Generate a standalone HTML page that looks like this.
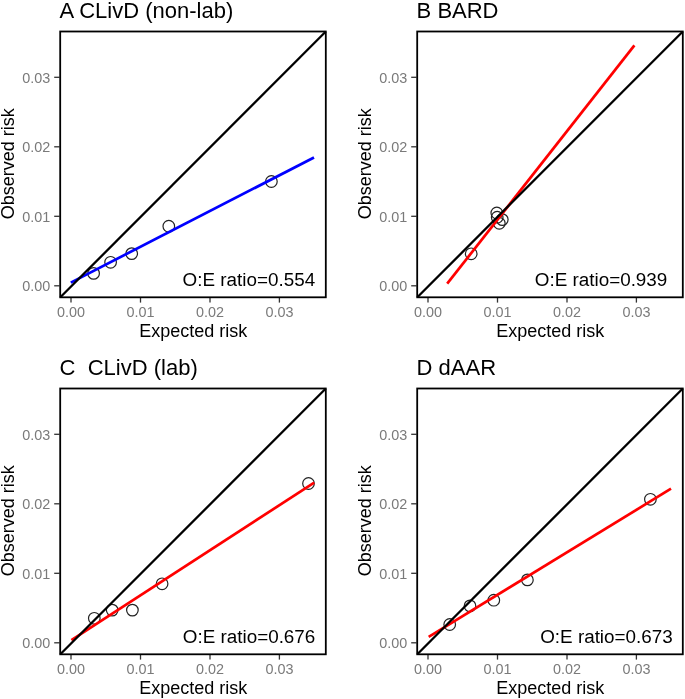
<!DOCTYPE html>
<html><head><meta charset="utf-8"><style>
html,body{margin:0;padding:0;background:#fff;}
svg{display:block;will-change:transform;}
text{font-family:"Liberation Sans",sans-serif;}
.ti{font-size:22px;fill:#000;}
.tk{font-size:14.4px;fill:#7a7a7a;}
.ax{font-size:18px;fill:#000;}
.oe{font-size:18.85px;fill:#000;}
.tm{stroke:#333;stroke-width:1.3;}
.dg{stroke:#000;stroke-width:2.3;}
.pt{fill:none;stroke:#222;stroke-width:1.2;}
.bx{fill:none;stroke:#000;stroke-width:1.8;}
</style></head><body>
<svg width="685" height="699" viewBox="0 0 685 699">
<rect width="685" height="699" fill="#fff"/>
<text x="59.6" y="17.6" class="ti">A CLivD (non-lab)</text>
<text x="50.3" y="291.4" class="tk" text-anchor="end">0.00</text>
<line x1="54.2" y1="285.8" x2="59.5" y2="285.8" class="tm"/>
<text x="50.3" y="221.9" class="tk" text-anchor="end">0.01</text>
<line x1="54.2" y1="216.3" x2="59.5" y2="216.3" class="tm"/>
<text x="50.3" y="152.4" class="tk" text-anchor="end">0.02</text>
<line x1="54.2" y1="146.8" x2="59.5" y2="146.8" class="tm"/>
<text x="50.3" y="82.9" class="tk" text-anchor="end">0.03</text>
<line x1="54.2" y1="77.3" x2="59.5" y2="77.3" class="tm"/>
<text x="71.0" y="316.6" class="tk" text-anchor="middle">0.00</text>
<line x1="71.0" y1="298.0" x2="71.0" y2="302.6" class="tm"/>
<text x="140.5" y="316.6" class="tk" text-anchor="middle">0.01</text>
<line x1="140.5" y1="298.0" x2="140.5" y2="302.6" class="tm"/>
<text x="210.0" y="316.6" class="tk" text-anchor="middle">0.02</text>
<line x1="210.0" y1="298.0" x2="210.0" y2="302.6" class="tm"/>
<text x="279.4" y="316.6" class="tk" text-anchor="middle">0.03</text>
<line x1="279.4" y1="298.0" x2="279.4" y2="302.6" class="tm"/>
<text x="139.2" y="336.5" class="ax">Expected risk</text>
<text transform="translate(14.2,163.8) rotate(-90)" text-anchor="middle" class="ax">Observed risk</text>
<circle cx="93.6" cy="273.4" r="5.8" class="pt"/>
<circle cx="110.6" cy="262.3" r="5.8" class="pt"/>
<circle cx="131.7" cy="253.6" r="5.8" class="pt"/>
<circle cx="168.8" cy="226.2" r="5.8" class="pt"/>
<circle cx="271.4" cy="181.5" r="5.8" class="pt"/>
<line x1="70.8" y1="282.6" x2="314" y2="157.5" stroke="#0000ff" stroke-width="2.7" stroke-linecap="butt"/>
<line x1="60.3" y1="297.3" x2="325.8" y2="31.5" class="dg"/>
<rect x="60.2" y="31.5" width="265.6" height="265.8" class="bx"/>
<text x="182.6" y="285.6" class="oe">O:E ratio=0.554</text>
<text x="416.6" y="17.6" class="ti">B BARD</text>
<text x="407.3" y="291.4" class="tk" text-anchor="end">0.00</text>
<line x1="411.2" y1="285.8" x2="416.5" y2="285.8" class="tm"/>
<text x="407.3" y="221.9" class="tk" text-anchor="end">0.01</text>
<line x1="411.2" y1="216.3" x2="416.5" y2="216.3" class="tm"/>
<text x="407.3" y="152.4" class="tk" text-anchor="end">0.02</text>
<line x1="411.2" y1="146.8" x2="416.5" y2="146.8" class="tm"/>
<text x="407.3" y="82.9" class="tk" text-anchor="end">0.03</text>
<line x1="411.2" y1="77.3" x2="416.5" y2="77.3" class="tm"/>
<text x="428.0" y="316.6" class="tk" text-anchor="middle">0.00</text>
<line x1="428.0" y1="298.0" x2="428.0" y2="302.6" class="tm"/>
<text x="497.5" y="316.6" class="tk" text-anchor="middle">0.01</text>
<line x1="497.5" y1="298.0" x2="497.5" y2="302.6" class="tm"/>
<text x="567.0" y="316.6" class="tk" text-anchor="middle">0.02</text>
<line x1="567.0" y1="298.0" x2="567.0" y2="302.6" class="tm"/>
<text x="636.4" y="316.6" class="tk" text-anchor="middle">0.03</text>
<line x1="636.4" y1="298.0" x2="636.4" y2="302.6" class="tm"/>
<text x="496.2" y="336.5" class="ax">Expected risk</text>
<text transform="translate(371.2,163.8) rotate(-90)" text-anchor="middle" class="ax">Observed risk</text>
<circle cx="471.2" cy="253.8" r="5.8" class="pt"/>
<circle cx="496.8" cy="213.0" r="5.8" class="pt"/>
<circle cx="497.2" cy="217.2" r="5.8" class="pt"/>
<circle cx="502.3" cy="219.6" r="5.8" class="pt"/>
<circle cx="499.3" cy="223.3" r="5.8" class="pt"/>
<line x1="447.2" y1="283.7" x2="634.4" y2="45.3" stroke="#ff0000" stroke-width="2.7" stroke-linecap="butt"/>
<line x1="417.3" y1="297.3" x2="682.8" y2="31.5" class="dg"/>
<rect x="417.2" y="31.5" width="265.6" height="265.8" class="bx"/>
<text x="534.8" y="285.6" class="oe">O:E ratio=0.939</text>
<text x="59.6" y="374.6" class="ti">C&#160; CLivD (lab)</text>
<text x="50.3" y="648.4" class="tk" text-anchor="end">0.00</text>
<line x1="54.2" y1="642.8" x2="59.5" y2="642.8" class="tm"/>
<text x="50.3" y="578.9" class="tk" text-anchor="end">0.01</text>
<line x1="54.2" y1="573.3" x2="59.5" y2="573.3" class="tm"/>
<text x="50.3" y="509.4" class="tk" text-anchor="end">0.02</text>
<line x1="54.2" y1="503.8" x2="59.5" y2="503.8" class="tm"/>
<text x="50.3" y="439.9" class="tk" text-anchor="end">0.03</text>
<line x1="54.2" y1="434.3" x2="59.5" y2="434.3" class="tm"/>
<text x="71.0" y="673.6" class="tk" text-anchor="middle">0.00</text>
<line x1="71.0" y1="655.0" x2="71.0" y2="659.6" class="tm"/>
<text x="140.5" y="673.6" class="tk" text-anchor="middle">0.01</text>
<line x1="140.5" y1="655.0" x2="140.5" y2="659.6" class="tm"/>
<text x="210.0" y="673.6" class="tk" text-anchor="middle">0.02</text>
<line x1="210.0" y1="655.0" x2="210.0" y2="659.6" class="tm"/>
<text x="279.4" y="673.6" class="tk" text-anchor="middle">0.03</text>
<line x1="279.4" y1="655.0" x2="279.4" y2="659.6" class="tm"/>
<text x="139.2" y="693.5" class="ax">Expected risk</text>
<text transform="translate(14.2,520.8) rotate(-90)" text-anchor="middle" class="ax">Observed risk</text>
<circle cx="94.3" cy="618.3" r="5.8" class="pt"/>
<circle cx="112.2" cy="610.1" r="5.8" class="pt"/>
<circle cx="132.4" cy="610.1" r="5.8" class="pt"/>
<circle cx="162.1" cy="583.8" r="5.8" class="pt"/>
<circle cx="308.5" cy="483.5" r="5.8" class="pt"/>
<line x1="71.4" y1="640.2" x2="314.2" y2="482.6" stroke="#ff0000" stroke-width="2.7" stroke-linecap="butt"/>
<line x1="60.3" y1="654.3" x2="325.8" y2="388.5" class="dg"/>
<rect x="60.2" y="388.5" width="265.6" height="265.8" class="bx"/>
<text x="182.8" y="642.6" class="oe">O:E ratio=0.676</text>
<text x="416.6" y="374.6" class="ti">D dAAR</text>
<text x="407.3" y="648.4" class="tk" text-anchor="end">0.00</text>
<line x1="411.2" y1="642.8" x2="416.5" y2="642.8" class="tm"/>
<text x="407.3" y="578.9" class="tk" text-anchor="end">0.01</text>
<line x1="411.2" y1="573.3" x2="416.5" y2="573.3" class="tm"/>
<text x="407.3" y="509.4" class="tk" text-anchor="end">0.02</text>
<line x1="411.2" y1="503.8" x2="416.5" y2="503.8" class="tm"/>
<text x="407.3" y="439.9" class="tk" text-anchor="end">0.03</text>
<line x1="411.2" y1="434.3" x2="416.5" y2="434.3" class="tm"/>
<text x="428.0" y="673.6" class="tk" text-anchor="middle">0.00</text>
<line x1="428.0" y1="655.0" x2="428.0" y2="659.6" class="tm"/>
<text x="497.5" y="673.6" class="tk" text-anchor="middle">0.01</text>
<line x1="497.5" y1="655.0" x2="497.5" y2="659.6" class="tm"/>
<text x="567.0" y="673.6" class="tk" text-anchor="middle">0.02</text>
<line x1="567.0" y1="655.0" x2="567.0" y2="659.6" class="tm"/>
<text x="636.4" y="673.6" class="tk" text-anchor="middle">0.03</text>
<line x1="636.4" y1="655.0" x2="636.4" y2="659.6" class="tm"/>
<text x="496.2" y="693.5" class="ax">Expected risk</text>
<text transform="translate(371.2,520.8) rotate(-90)" text-anchor="middle" class="ax">Observed risk</text>
<circle cx="449.7" cy="624.5" r="5.8" class="pt"/>
<circle cx="470.0" cy="605.9" r="5.8" class="pt"/>
<circle cx="493.8" cy="600.2" r="5.8" class="pt"/>
<circle cx="527.4" cy="579.9" r="5.8" class="pt"/>
<circle cx="650.4" cy="499.3" r="5.8" class="pt"/>
<line x1="428.7" y1="636.9" x2="671" y2="488.7" stroke="#ff0000" stroke-width="2.7" stroke-linecap="butt"/>
<line x1="417.3" y1="654.3" x2="682.8" y2="388.5" class="dg"/>
<rect x="417.2" y="388.5" width="265.6" height="265.8" class="bx"/>
<text x="540.2" y="642.6" class="oe">O:E ratio=0.673</text>
</svg>
</body></html>
